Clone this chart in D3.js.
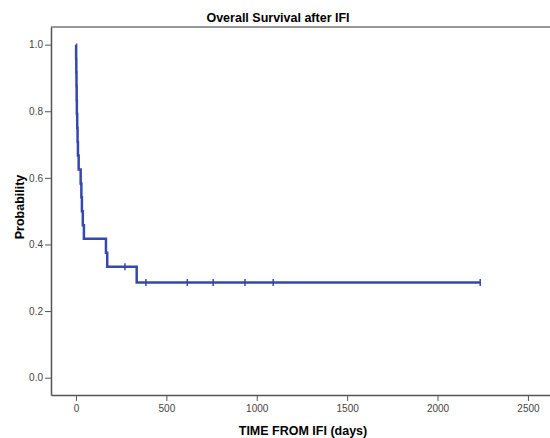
<!DOCTYPE html>
<meta charset="utf-8">
<style>
body { margin: 0; background: #fff; }
text { font-family: "Liberation Sans", Arial, sans-serif; }
.tick text { fill: #444; font-size: 10px; }
.tick line, .domain { stroke: #555; }
.km { fill: none; stroke: #3548ad; stroke-width: 2.5; }
.censor { stroke: #3548ad; stroke-width: 1.5; }
</style>
<div id="chart"></div>
<script src="https://d3js.org/d3.v7.min.js"></script>
<script>
// step times (days) and survival right after each step
var stepTimes = [0, 1, 2, 3, 4, 5, 7, 9, 11, 15, 26, 30, 33, 38, 44, 166, 173, 336];
var survival  = [1.0, 0.958, 0.917, 0.875, 0.833, 0.792, 0.75, 0.708, 0.667, 0.625, 0.583, 0.542, 0.5, 0.458, 0.417, 0.375, 0.333, 0.286];
// censored observations
var censorTimes = [271, 387, 616, 759, 935, 1091, 2236];
var xTicks = [0, 500, 1000, 1500, 2000, 2500];
var yTicks = [0, 0.2, 0.4, 0.6, 0.8, 1.0];

var W = 550, H = 438;
var svg = d3.select("#chart").append("svg").attr("width", W).attr("height", H);

var x = d3.scaleLinear().domain([-138, 2622]).range([51, 550]);
var y = d3.scaleLinear().domain([-0.052, 1.053]).range([395, 27]);

function survAt(t) {
  var s = 1;
  for (var i = 0; i < stepTimes.length; i++) if (stepTimes[i] <= t) s = survival[i];
  return s;
}

// frame (top line)
svg.append("line")
   .attr("x1", x(-138)).attr("x2", W)
   .attr("y1", y(1.053)).attr("y2", y(1.053))
   .attr("stroke", "#777").attr("stroke-width", 1.5);

svg.append("g")
   .attr("transform", "translate(0," + y(-0.052) + ")")
   .call(d3.axisBottom(x).tickValues(xTicks).tickFormat(d3.format("d")).tickSize(6).tickPadding(4).tickSizeOuter(0))
   .call(function(g){ g.select(".domain").attr("stroke-width", 1.5); });

svg.append("g")
   .attr("transform", "translate(" + x(-138) + ",0)")
   .call(d3.axisLeft(y).tickValues(yTicks).tickFormat(d3.format(".1f")).tickSize(6).tickPadding(2).tickSizeOuter(0))
   .call(function(g){ g.select(".domain").attr("stroke-width", 1.5); });

var pts = stepTimes.map(function(t, i){ return [t, survival[i]]; });
pts.push([d3.max(censorTimes), survAt(d3.max(censorTimes))]);

var line = d3.line()
    .x(function(d){ return x(d[0]); })
    .y(function(d){ return y(d[1]); })
    .curve(d3.curveStepAfter);

svg.append("path").datum(pts).attr("class", "km").attr("d", line);

svg.selectAll(".censor")
   .data(censorTimes)
  .enter().append("line")
   .attr("class", "censor")
   .attr("x1", function(d){ return x(d); })
   .attr("x2", function(d){ return x(d); })
   .attr("y1", function(d){ return y(survAt(d)) - 3.5; })
   .attr("y2", function(d){ return y(survAt(d)) + 3.5; });

svg.append("text")
   .attr("x", 278).attr("y", 22)
   .attr("text-anchor", "middle")
   .style("font-size", "12.5px").style("font-weight", "bold")
   .text("Overall Survival after IFI");

svg.append("text")
   .attr("x", 303).attr("y", 435)
   .attr("text-anchor", "middle")
   .style("font-size", "12.5px").style("font-weight", "bold")
   .text("TIME FROM IFI (days)");

svg.append("text")
   .attr("transform", "translate(20,207) rotate(-90)")
   .attr("text-anchor", "middle")
   .attr("dy", "0.35em")
   .style("font-size", "12.5px").style("font-weight", "bold")
   .text("Probability");
</script>
